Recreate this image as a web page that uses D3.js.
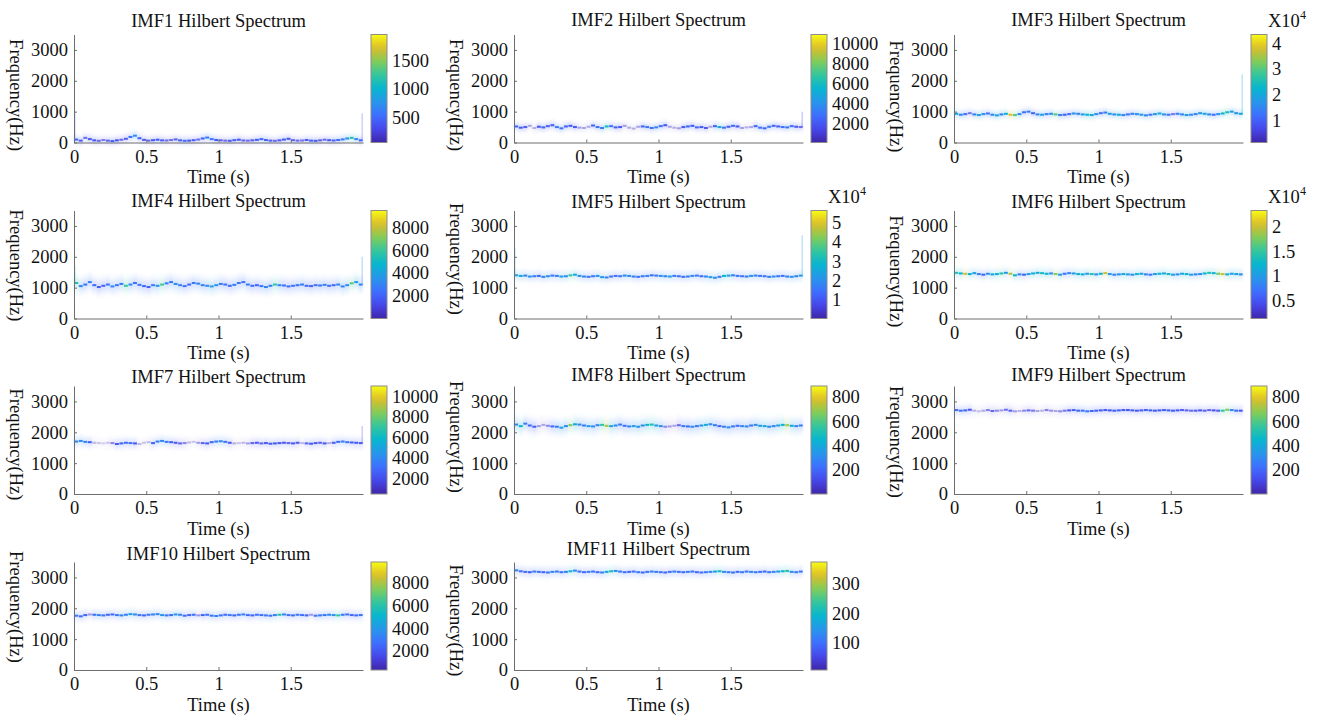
<!DOCTYPE html>
<html><head><meta charset="utf-8">
<script src="https://cdn.jsdelivr.net/npm/d3@7"></script>
<style>
html,body{margin:0;padding:0;background:#fff;}
svg{display:block;font-family:"Liberation Serif","Times New Roman",serif;}
</style></head><body>
<svg id="chart" width="1320" height="718"></svg>
<script>
// ---- Hilbert spectra of the 11 IMFs: instantaneous frequency (Hz) and amplitude per sample ----
const sampleStep = 0.03125;            // s between plotted instantaneous samples
const timeTicks = [0, 0.5, 1, 1.5];
const freqTicks = [0, 1000, 2000, 3000];
const imfNames = ["IMF1","IMF2","IMF3","IMF4","IMF5","IMF6","IMF7","IMF8","IMF9","IMF10","IMF11"];

const imf1Freq = [95,60,150,110,70,55,80,60,45,70,90,120,180,220,140,85,60,75,90,70,65,80,100,70,55,60,75,95,130,160,110,80,70,60,55,75,90,65,60,70,85,110,80,60,55,70,95,120,75,60,65,80,60,55,70,90,75,65,80,100,130,150,110,70];
const imf1Amp = [500,350,300,420,380,300,260,330,420,380,300,350,550,700,480,350,300,380,420,360,300,280,330,450,520,420,360,300,480,620,560,400,330,300,360,420,380,320,300,350,400,520,450,340,300,360,420,380,330,300,280,360,450,400,330,300,380,460,520,600,750,1150,700,450];

const imf2Freq = [520,480,500,540,470,510,490,530,560,500,460,520,540,500,480,470,510,550,500,470,520,530,490,500,540,480,450,510,520,500,470,490,530,560,510,480,460,500,520,540,490,500,470,510,530,500,480,510,540,520,470,490,500,530,480,460,510,540,520,500,490,530,510,500];
const imf2Amp = [2500,2200,1800,700,600,2000,2400,1800,2200,3200,3000,2400,1900,2100,800,700,650,2500,2800,3200,6000,2800,2400,2000,800,650,600,700,2400,3000,2800,3400,2600,2000,700,600,800,2200,2500,2000,2600,2200,1800,700,2400,5000,2800,2200,2600,2000,750,600,700,2400,2800,2600,3000,2400,2200,2800,3200,2600,2000,1500];

const imf3Freq = [930,900,920,950,910,890,920,940,900,880,910,930,900,890,920,980,1000,950,910,900,920,930,910,890,900,920,940,930,910,900,890,920,950,970,930,910,900,890,910,930,920,900,880,900,920,940,910,900,920,930,910,890,900,920,950,930,910,900,920,940,980,1000,950,930];
const imf3Amp = [20000,15000,12000,6000,14000,18000,16000,12000,15000,20000,14000,22000,38000,30000,16000,12000,14000,10000,15000,18000,14000,16000,30000,14000,10000,12000,16000,15000,18000,22000,20000,16000,12000,14000,18000,16000,20000,15000,12000,14000,16000,18000,15000,13000,17000,20000,16000,13000,6000,14000,15000,18000,16000,14000,17000,20000,15000,12000,16000,22000,25000,18000,16000,20000];

const imf4Freq = [1150,1050,1100,1180,1080,1020,1060,1100,1040,1080,1120,1060,1100,1150,1090,1050,1020,1080,1060,1100,1140,1180,1120,1080,1050,1100,1150,1130,1080,1060,1040,1080,1120,1100,1060,1090,1150,1180,1100,1060,1080,1050,1020,1060,1100,1080,1070,1040,1060,1080,1100,1060,1050,1080,1070,1090,1060,1080,1100,1040,1080,1140,1180,1100];
const imf4Amp = [5500,3200,2500,2800,2200,1800,2000,2400,3000,2600,2800,6000,3200,2400,2600,2200,2000,2800,3400,6200,3000,2600,3200,2800,2400,2200,2600,3000,2800,3200,3800,3400,2600,2400,2200,2800,2600,2400,2800,2200,2000,2600,3000,2800,5800,3000,2400,2200,2600,2400,2800,2200,2000,2400,2600,2800,2400,2200,3000,2800,3400,6500,3800,3000];

const imf5Freq = [1400,1380,1390,1360,1370,1380,1350,1370,1390,1380,1360,1370,1400,1420,1380,1360,1350,1370,1380,1340,1330,1360,1380,1370,1390,1380,1360,1350,1370,1380,1400,1390,1380,1370,1360,1380,1370,1350,1360,1380,1390,1370,1360,1340,1320,1350,1380,1390,1400,1380,1370,1360,1380,1390,1380,1370,1350,1360,1370,1380,1360,1350,1370,1390];
const imf5Amp = [22000,25000,18000,20000,16000,14000,18000,20000,15000,17000,22000,20000,35000,25000,20000,18000,15000,16000,20000,22000,18000,15000,14000,16000,18000,20000,17000,15000,16000,18000,14000,16000,20000,18000,22000,16000,15000,14000,17000,19000,16000,14000,18000,22000,20000,16000,28000,24000,18000,16000,15000,17000,20000,18000,16000,15000,17000,19000,16000,15000,18000,20000,17000,22000];

const imf6Freq = [1480,1460,1450,1440,1470,1440,1420,1450,1430,1440,1460,1480,1450,1400,1430,1420,1440,1460,1480,1470,1450,1460,1440,1420,1450,1470,1460,1440,1430,1450,1440,1430,1450,1470,1440,1420,1430,1440,1430,1420,1440,1450,1430,1420,1440,1450,1460,1440,1420,1430,1450,1440,1420,1430,1440,1460,1480,1470,1450,1440,1430,1450,1440,1430];
const imf6Amp = [14000,12000,20000,12000,10000,8000,6000,9000,11000,12000,14000,10000,19000,12000,8000,6000,10000,12000,11000,13000,12000,9000,18000,10000,7000,8000,10000,12000,11000,10000,14000,9000,12000,20000,10000,8000,9000,11000,10000,9000,12000,11000,8000,7000,10000,12000,11000,13000,10000,9000,11000,12000,10000,8000,9000,12000,14000,12000,17000,20000,12000,10000,11000,9000];

const imf7Freq = [1700,1720,1690,1680,1660,1650,1640,1660,1650,1620,1640,1660,1650,1640,1620,1660,1680,1650,1700,1720,1690,1680,1660,1640,1650,1670,1690,1660,1650,1640,1680,1700,1710,1690,1660,1640,1650,1660,1640,1650,1660,1640,1650,1630,1640,1650,1660,1650,1640,1660,1650,1640,1630,1650,1660,1640,1650,1660,1690,1700,1680,1670,1660,1650];
const imf7Amp = [3800,4200,3600,2600,900,800,700,800,1500,2400,2800,3000,3200,2400,900,800,900,2800,3600,3800,3400,2600,2200,2000,1500,900,800,1200,2000,2400,2800,3600,4000,3200,2200,1000,800,900,1200,2000,2200,2000,2400,2200,2600,2400,2200,2000,2400,2200,900,2000,2400,2200,2000,2400,1000,2600,3000,3400,3200,2600,2400,2200];

const imf8Freq = [2250,2200,2280,2220,2180,2200,2240,2210,2190,2180,2150,2200,2230,2260,2250,2220,2200,2190,2230,2240,2210,2200,2220,2250,2210,2190,2200,2180,2220,2240,2250,2220,2200,2180,2190,2210,2230,2200,2190,2180,2200,2220,2240,2260,2230,2200,2180,2160,2190,2210,2200,2190,2220,2240,2210,2200,2180,2200,2220,2240,2230,2210,2200,2220];
const imf8Amp = [300,450,250,200,180,60,50,80,200,250,350,300,650,400,300,250,350,300,280,550,700,400,300,250,220,280,350,320,300,450,500,350,300,80,60,50,120,250,200,300,250,350,400,300,250,200,280,300,250,220,300,280,250,300,350,400,300,280,350,450,700,400,300,250];

const imf9Freq = [2720,2700,2710,2730,2700,2680,2700,2720,2690,2700,2710,2730,2700,2680,2690,2700,2710,2700,2690,2700,2720,2700,2690,2680,2700,2710,2720,2700,2700,2680,2690,2700,2710,2720,2710,2700,2710,2720,2720,2710,2700,2710,2720,2710,2700,2710,2720,2710,2700,2710,2720,2710,2700,2700,2710,2700,2720,2710,2700,2700,2730,2720,2700,2700];
const imf9Amp = [200,220,180,150,40,30,50,90,120,80,60,110,130,60,40,80,120,100,50,40,90,70,50,80,100,160,180,200,220,250,200,180,170,160,150,170,180,160,150,170,160,150,180,170,160,150,170,180,160,150,140,130,120,140,150,130,120,150,140,550,650,300,200,160];

const imf10Freq = [1760,1740,1780,1800,1790,1780,1770,1790,1800,1780,1770,1790,1810,1800,1780,1770,1790,1800,1810,1780,1770,1780,1800,1790,1760,1780,1790,1770,1780,1790,1760,1750,1770,1790,1780,1770,1790,1800,1780,1770,1790,1780,1770,1760,1780,1790,1800,1780,1770,1790,1780,1770,1790,1760,1770,1780,1790,1780,1770,1790,1800,1780,1770,1780];
const imf10Amp = [3000,2600,2400,1000,2800,3200,2800,2400,2600,3000,3400,3200,4200,3600,2800,2400,3000,3200,3400,3800,3000,2600,4000,3200,2600,2400,2800,1000,2400,2800,3000,3200,2800,2600,3000,2400,2800,3200,2600,2400,2800,2600,3000,2800,3200,6000,3400,2800,2600,3000,2600,2400,1000,2800,3000,2800,3400,3800,6200,3000,2800,2400,2600,2800];

const imf11Freq = [3230,3200,3180,3170,3190,3180,3170,3160,3180,3190,3170,3180,3200,3220,3190,3170,3180,3190,3170,3160,3180,3200,3210,3190,3170,3180,3190,3170,3160,3180,3190,3180,3170,3160,3180,3190,3180,3170,3180,3190,3170,3160,3170,3180,3190,3200,3180,3170,3160,3180,3170,3190,3180,3170,3180,3190,3170,3180,3190,3200,3210,3180,3170,3190];
const imf11Amp = [120,100,90,80,110,100,90,100,120,110,100,120,200,130,100,90,110,100,90,120,160,210,140,110,100,90,100,110,90,100,120,110,100,90,100,110,100,90,110,100,90,100,110,120,150,200,130,110,100,90,110,100,120,110,100,90,110,120,140,190,220,130,110,100];

// end-effect frequency spikes at the first / last sample (Hz, null = none)
const edgeStartTop = [950, null, null, 1700, 2300, null, null, null, null, null, null];
const edgeEndTop   = [950, 1000, 2200, 2000, 2700, null, 2200, null, null, null, null];

// colour-bar limits and ticks (raw amplitude units)
const cbarLow  = [60, 100, 1300, 0, 500, 1300, 500, 0, 0, 300, 5];
const cbarHigh = [1950, 10900, 43500, 9500, 56000, 23300, 11000, 890, 890, 9850, 375];
const cbarExp  = [0, 0, 4, 0, 4, 4, 0, 0, 0, 0, 0];
const imf1Ticks = [500, 1000, 1500];
const imf2Ticks = [2000, 4000, 6000, 8000, 10000];
const imf3Ticks = [10000, 20000, 30000, 40000];
const imf4Ticks = [2000, 4000, 6000, 8000];
const imf5Ticks = [10000, 20000, 30000, 40000, 50000];
const imf6Ticks = [5000, 10000, 15000, 20000];
const imf7Ticks = [2000, 4000, 6000, 8000, 10000];
const imf8Ticks = [200, 400, 600, 800];
const imf9Ticks = [200, 400, 600, 800];
const imf10Ticks = [2000, 4000, 6000, 8000];
const imf11Ticks = [100, 200, 300];

const freqs = [imf1Freq, imf2Freq, imf3Freq, imf4Freq, imf5Freq, imf6Freq, imf7Freq, imf8Freq, imf9Freq, imf10Freq, imf11Freq];
const amps  = [imf1Amp, imf2Amp, imf3Amp, imf4Amp, imf5Amp, imf6Amp, imf7Amp, imf8Amp, imf9Amp, imf10Amp, imf11Amp];
const cbarTicks = [imf1Ticks, imf2Ticks, imf3Ticks, imf4Ticks, imf5Ticks, imf6Ticks, imf7Ticks, imf8Ticks, imf9Ticks, imf10Ticks, imf11Ticks];

// ---- layout ----
const colLeft = [74, 514, 954];
const rowTop = [34.5, 210.5, 386, 562];
const axW = 289, axH = 108;
const titleBase = [26.5, 26, 26, 207, 208, 208, 383, 381, 381, 560, 555];
const ylabShift = [6.6, 6.6, 8, 1, -5.5, 7, 4.5, -3, 2, -9, 4.5];
const hazeSpread = [2.5, 2.5, 2.5, 5, 3, 3, 3, 5, 3, 3, 3];
const hazeOpacity = [0.3, 0.3, 0.3, 0.5, 0.3, 0.3, 0.3, 0.5, 0.3, 0.3, 0.3];
const FS = 18.5;

// parula colour map
const parula = d3.piecewise(d3.interpolateRgb, [
  "#3e26a8", "#4747eb", "#3e6fff", "#2796eb", "#08b5d0", "#31c69f", "#81cc59", "#dcbd29", "#f9fb15"
]);

const svg = d3.select("#chart");
const defs = svg.append("defs");
const grad = defs.append("linearGradient").attr("id", "parulaGrad")
  .attr("x1", 0).attr("y1", 1).attr("x2", 0).attr("y2", 0);
d3.range(0, 1.0001, 0.05).forEach(t => grad.append("stop").attr("offset", t).attr("stop-color", parula(t)));

hazeSpread.forEach((s, i) => {
  defs.append("filter").attr("id", "haze" + i)
    .attr("x", "-20%").attr("y", "-200%").attr("width", "140%").attr("height", "500%")
    .append("feGaussianBlur").attr("stdDeviation", `1.2 ${s}`);
});

imfNames.forEach((name, i) => {
  const row = Math.floor(i / 3), col = i % 3;
  const left = colLeft[col], top = rowTop[row], bottom = top + axH, right = left + axW;
  const x = d3.scaleLinear().domain([0, 2]).range([left, right]);
  const y = d3.scaleLinear().domain([0, 3500]).range([bottom, top]);
  const lo = cbarLow[i], hi = cbarHigh[i];
  const norm = v => Math.max(0, Math.min(1, (v - lo) / (hi - lo)));
  const alpha = v => 0.1 + 0.9 * Math.min(1, norm(v) / 0.17);

  const pts = freqs[i].map((f, k) => ({ t: k * sampleStep, f, a: amps[i][k] }));
  const w = x(sampleStep) - x(0);

  const g = svg.append("g");

  // faint haze around the ridge
  g.append("g").attr("filter", `url(#haze${i})`).attr("opacity", hazeOpacity[i])
    .selectAll("rect").data(pts).join("rect")
    .attr("x", d => x(d.t)).attr("width", w)
    .attr("y", d => y(d.f) - 2.5).attr("height", 5)
    .attr("fill", d => parula(norm(d.a)))
    .attr("fill-opacity", d => alpha(d.a));

  // end-effect spikes
  const edges = [];
  if (edgeStartTop[i] != null) edges.push({ t: 0, f0: freqs[i][0], f1: edgeStartTop[i], a: amps[i][0] });
  if (edgeEndTop[i] != null) edges.push({ t: 2, f0: freqs[i][freqs[i].length - 1], f1: edgeEndTop[i], a: amps[i][amps[i].length - 1] });
  g.selectAll("line.edge").data(edges).join("line").attr("class", "edge")
    .attr("x1", d => x(d.t) + (d.t === 0 ? 0.8 : -0.8)).attr("x2", d => x(d.t) + (d.t === 0 ? 0.8 : -0.8))
    .attr("y1", d => y(d.f0)).attr("y2", d => y(d.f1))
    .attr("stroke", d => parula(norm(d.a))).attr("stroke-width", 1.5).attr("stroke-opacity", 0.28);

  // instantaneous frequency ridge
  g.append("g").selectAll("rect").data(pts).join("rect")
    .attr("x", d => x(d.t) + 0.3).attr("width", w - 0.6)
    .attr("y", d => y(d.f) - 1).attr("height", 2)
    .attr("fill", d => parula(norm(d.a)))
    .attr("fill-opacity", d => alpha(d.a));

  // axes
  const xAxis = d3.axisBottom(x).tickValues(timeTicks).tickSizeInner(-3).tickSizeOuter(0)
    .tickPadding(7).tickFormat(d3.format(""));
  const yAxis = d3.axisLeft(y).tickValues(freqTicks).tickSizeInner(-3).tickSizeOuter(0)
    .tickPadding(6).tickFormat(d3.format(""));
  const gx = g.append("g").attr("transform", `translate(0,${bottom})`).call(xAxis);
  const gy = g.append("g").attr("transform", `translate(${left},0)`).call(yAxis);
  [gx, gy].forEach(a => {
    a.attr("font-family", null).attr("font-size", FS);
    a.select(".domain").attr("stroke", "#6e6e6e");
    a.selectAll(".tick line").attr("stroke", "#6e6e6e");
    a.selectAll(".tick text").attr("fill", "#111");
  });

  // titles and labels
  g.append("text").attr("x", (left + right) / 2).attr("y", titleBase[i])
    .attr("text-anchor", "middle").attr("font-size", FS).attr("fill", "#111")
    .text(name + " Hilbert Spectrum");
  g.append("text").attr("x", (left + right) / 2).attr("y", bottom + 40.7)
    .attr("text-anchor", "middle").attr("font-size", FS).attr("fill", "#111")
    .text("Time (s)");
  g.append("text")
    .attr("transform", `translate(${left - 58},${(top + bottom) / 2 + ylabShift[i]}) rotate(90)`)
    .attr("text-anchor", "middle").attr("dominant-baseline", "central")
    .attr("font-size", FS).attr("fill", "#111")
    .text("Frequency(Hz)");

  // colour bar
  const cbX = left + 297, cbW = 16;
  const cy = d3.scaleLinear().domain([lo, hi]).range([bottom, top]);
  g.append("rect").attr("x", cbX).attr("y", top).attr("width", cbW).attr("height", axH)
    .attr("fill", "url(#parulaGrad)").attr("stroke", "#8c8c8c").attr("stroke-width", 1);
  const scale = Math.pow(10, cbarExp[i]);
  const cAxis = d3.axisRight(cy).tickValues(cbarTicks[i]).tickSize(0).tickPadding(5)
    .tickFormat(v => d3.format("~g")(v / scale));
  const gc = g.append("g").attr("transform", `translate(${cbX + cbW},0)`).call(cAxis);
  gc.attr("font-family", null).attr("font-size", FS);
  gc.select(".domain").remove();
  gc.selectAll(".tick text").attr("fill", "#111");
  if (cbarExp[i]) {
    const ex = g.append("text").attr("x", cbX + cbW + 1).attr("y", top - 8)
      .attr("font-size", FS).attr("fill", "#111").text("X10");
    ex.append("tspan").attr("dy", -8).attr("font-size", 12).text(cbarExp[i]);
  }
});
</script>
</body></html>
